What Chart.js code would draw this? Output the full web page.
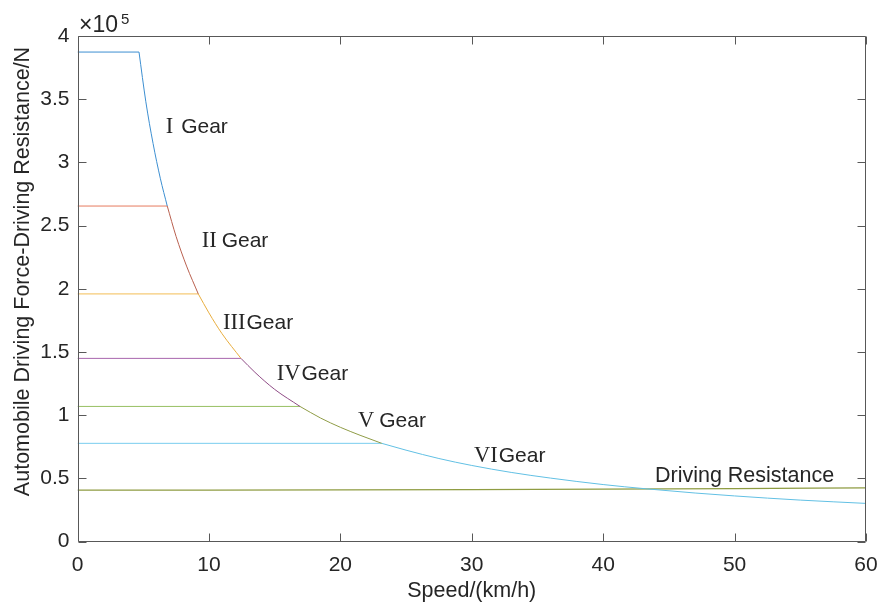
<!DOCTYPE html>
<html>
<head>
<meta charset="utf-8">
<script src="https://cdn.jsdelivr.net/npm/chart.js@4.4.1/dist/chart.umd.min.js"></script>
<style>
  html, body { margin: 0; padding: 0; background: #fff; }
  canvas { display: block; }
</style>
</head>
<body>
<canvas id="chart" width="880" height="610"></canvas>
<script>
// force values are in units of 10^5 N, speeds in km/h
const gearNames = ['I', 'II', 'III', 'IV', 'V', 'VI'];
const maxForce = [3.873, 2.655, 1.96, 1.45, 1.07, 0.778];

// constant power part of each gear
const curveSpeedI = [4.68, 5.2, 5.75, 6.3, 6.83];
const curveForceI = [3.873, 3.48, 3.15, 2.875, 2.655];
const curveSpeedII = [6.83, 7.5, 8.3, 9.19];
const curveForceII = [2.655, 2.415, 2.18, 1.96];
const curveSpeedIII = [9.19, 10, 11, 12.44];
const curveForceIII = [1.96, 1.81, 1.645, 1.45];
const curveSpeedIV = [12.44, 13.5, 15, 16.93];
const curveForceIV = [1.45, 1.34, 1.205, 1.07];
const curveSpeedV = [16.93, 18.5, 20, 21.5, 23.15];
const curveForceV = [1.07, 0.978, 0.905, 0.842, 0.778];
const curveSpeedVI = [23.15, 25, 27.5, 30, 33, 36, 40, 43.3, 47, 50, 55, 60];
const curveForceVI = [0.778, 0.724, 0.658, 0.603, 0.548, 0.503, 0.452, 0.418, 0.385, 0.362, 0.329, 0.303];

const resistSpeed = [0, 10, 20, 30, 40, 50, 60];
const resistForce = [0.408, 0.4085, 0.410, 0.4125, 0.416, 0.4205, 0.426];

const xTicks = [0, 10, 20, 30, 40, 50, 60];
const yTicks = [0, 0.5, 1, 1.5, 2, 2.5, 3, 3.5, 4];

const curveSpeeds = [curveSpeedI, curveSpeedII, curveSpeedIII, curveSpeedIV, curveSpeedV, curveSpeedVI];
const curveForces = [curveForceI, curveForceII, curveForceIII, curveForceIV, curveForceV, curveForceVI];

// styles
const flatColors = ['#3d8fd1', '#e67a5e', '#f3bd55', '#a866ad', '#98c063', '#79cdef'];
const curveColors = ['#3d8fd1', '#b9604f', '#e8ad3e', '#8f4c86', '#8f9c46', '#62c0e4'];
const resistColor = '#8f9c42';
const FONT = '"Liberation Sans", Arial, sans-serif';
const SERIF = '"Liberation Serif", "Times New Roman", serif';
const TEXT = '#262626';
const AXIS = '#585858';

// text labels placed at (speed, force) = left end of text, baseline
const gearLabelPos = [[6.71, 3.233, 8], [9.45, 2.333, 5], [11.07, 1.683, 1],
                      [15.16, 1.278, 1], [21.34, 0.906, 5], [30.17, 0.631, 1]];
const resistLabelPos = [43.94, 0.475];

const pts = (xs, ys) => xs.map((x, i) => ({ x: x, y: ys[i] }));

const datasets = [];
gearNames.forEach((g, i) => {
  datasets.push({
    label: g + ' Gear max',
    data: [{ x: 0, y: maxForce[i] }, { x: curveSpeeds[i][0], y: maxForce[i] }],
    borderColor: flatColors[i], borderWidth: 1, pointRadius: 0, tension: 0
  });
  datasets.push({
    label: g + ' Gear',
    data: pts(curveSpeeds[i], curveForces[i]),
    borderColor: curveColors[i], borderWidth: 1, pointRadius: 0,
    cubicInterpolationMode: 'monotone'
  });
});
datasets.push({
  label: 'Driving Resistance',
  data: pts(resistSpeed, resistForce),
  borderColor: resistColor, borderWidth: 1.2, pointRadius: 0,
  cubicInterpolationMode: 'monotone'
});

const frame = {
  id: 'frame',
  afterDraw(chart) {
    const ctx = chart.ctx;
    const a = chart.chartArea;
    const xs = chart.scales.x, ys = chart.scales.y;
    ctx.save();
    ctx.strokeStyle = AXIS;
    ctx.lineWidth = 1;
    const L = Math.round(a.left) + 0.5, R = Math.round(a.right) - 0.5;
    const T = Math.round(a.top) + 0.5, B = Math.round(a.bottom) - 0.5;
    ctx.beginPath();
    ctx.moveTo(L, T); ctx.lineTo(R, T); ctx.lineTo(R, B); ctx.lineTo(L, B); ctx.closePath();
    xTicks.forEach(v => {
      const p = Math.round(xs.getPixelForValue(v)) + 0.5;
      ctx.moveTo(p, B); ctx.lineTo(p, B - 8);
      ctx.moveTo(p, T); ctx.lineTo(p, T + 8);
    });
    yTicks.forEach(v => {
      const p = Math.round(ys.getPixelForValue(v)) + 0.5;
      ctx.moveTo(L, p); ctx.lineTo(L + 8, p);
      ctx.moveTo(R, p); ctx.lineTo(R - 8, p);
    });
    ctx.stroke();

    ctx.fillStyle = TEXT;
    ctx.textBaseline = 'alphabetic';
    ctx.textAlign = 'left';
    // exponent
    ctx.font = '23px ' + FONT;
    ctx.fillText('\u00d710', 79, 32);
    ctx.font = '15px ' + FONT;
    ctx.fillText('5', 121, 24);

    // gear labels
    gearNames.forEach((g, i) => {
      const [sx, fy, gap] = gearLabelPos[i];
      const px = xs.getPixelForValue(sx), py = ys.getPixelForValue(fy);
      ctx.font = '22.5px ' + SERIF;
      const w = ctx.measureText(g).width;
      ctx.fillText(g, px, py);
      ctx.font = '21px ' + FONT;
      ctx.fillText('Gear', px + w + gap, py);
    });
    ctx.font = '21.5px ' + FONT;
    ctx.fillText('Driving Resistance', xs.getPixelForValue(resistLabelPos[0]), ys.getPixelForValue(resistLabelPos[1]));

    // y axis title
    ctx.translate(28.5, 271.5);
    ctx.rotate(-Math.PI / 2);
    ctx.textAlign = 'center';
    ctx.fillText('Automobile Driving Force-Driving Resistance/N', 0, 0);
    ctx.restore();
  }
};

new Chart(document.getElementById('chart'), {
  type: 'line',
  data: { datasets: datasets },
  options: {
    responsive: false,
    animation: false,
    events: [],
    layout: { padding: { top: 36, right: 14, bottom: 0, left: 0 } },
    plugins: { legend: { display: false }, tooltip: { enabled: false } },
    scales: {
      x: {
        type: 'linear', min: 0, max: 60,
        afterFit: s => { s.height = 68.3; s.paddingLeft = 0; s.paddingRight = 0; },
        afterBuildTicks: s => { s.ticks = xTicks.map(v => ({ value: v })); },
        grid: { display: false, drawTicks: false },
        border: { display: false },
        ticks: { color: TEXT, font: { family: FONT, size: 21 }, padding: 11, maxRotation: 0 },
        title: { display: true, text: 'Speed/(km/h)', color: TEXT,
                 font: { family: FONT, size: 21.5 }, padding: { top: 0, bottom: 6 } }
      },
      y: {
        type: 'linear', min: 0, max: 4,
        afterFit: s => { s.width = 77.5; s.paddingTop = 0; s.paddingBottom = 0; },
        afterBuildTicks: s => { s.ticks = yTicks.map(v => ({ value: v })); },
        grid: { display: false, drawTicks: false },
        border: { display: false },
        ticks: { color: TEXT, font: { family: FONT, size: 21 }, padding: 8,
                 callback: v => String(v) }
      }
    }
  },
  plugins: [frame]
});
</script>
</body>
</html>
